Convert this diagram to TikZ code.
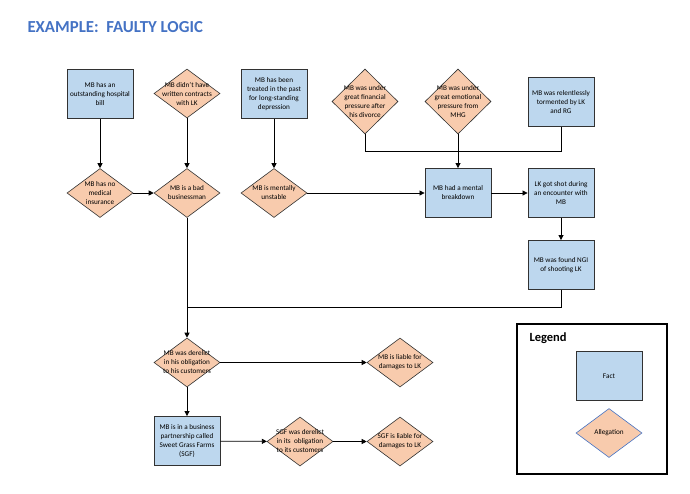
\documentclass[tikz,border=0pt]{standalone}
\usepackage{fontspec}
\setmainfont{Carlito}
\usetikzlibrary{arrows.meta,shapes.geometric}
\definecolor{factfill}{RGB}{189,215,238}
\definecolor{allgfill}{RGB}{248,203,173}
\definecolor{titleblue}{RGB}{68,114,196}
\definecolor{edgegray}{RGB}{50,50,50}
\tikzset{
  fact/.style={draw=edgegray, line width=0.9pt, fill=factfill, rectangle, minimum width=66pt, minimum height=49pt, inner sep=1pt, align=center, font=\fontsize{7.2}{9}\selectfont},
  allg/.style={draw=edgegray, line width=0.6pt, fill=allgfill, diamond, minimum width=66pt, minimum height=49pt, inner sep=0pt},
  tallallg/.style={allg, minimum height=65pt},
  lbl/.style={align=center, inner sep=0pt, font=\fontsize{7.2}{9}\selectfont},
  arr/.style={line width=0.8pt, -{Triangle[length=5pt,width=5pt]}},
  ln/.style={line width=0.8pt},
}
\begin{document}
\begin{tikzpicture}[x=1pt,y=-1pt]
\useasboundingbox (0,0) rectangle (690,493);
\node[anchor=west, text=titleblue, font=\fontsize{16.8}{19}\selectfont\bfseries] (title) at (24,27) {EXAMPLE:\ \ FAULTY LOGIC};

% row 1
\node[fact] (hosp) at (100,94) {MB has an\\outstanding hospital\\bill};
\node[allg, label={[lbl]center:{MB didn't have\\written contracts\\with LK}}] (contr) at (187,93.5) {};
\node[fact] (dep) at (274,94) {MB has been\\treated in the past\\for long-standing\\depression};
\node[tallallg, label={[lbl]center:{MB was under\\great financial\\pressure after\\his divorce}}] (fin) at (365,101.5) {};
\node[tallallg, label={[lbl]center:{MB was under\\great emotional\\pressure from\\MHG}}] (emo) at (458,101.5) {};
\node[fact] (tor) at (561,102) {MB was relentlessly\\tormented by LK\\and RG};

% row 2
\node[allg, label={[lbl]center:{MB has no\\medical\\insurance}}] (ins) at (100,193) {};
\node[allg, label={[lbl]center:{MB is a bad\\businessman}}] (bad) at (187,193) {};
\node[allg, label={[lbl]center:{MB is mentally\\unstable}}] (unst) at (274,193) {};
\node[fact] (brk) at (458,193) {MB had a mental\\breakdown};
\node[fact] (shot) at (561,193) {LK got shot during\\an encounter with\\MB};
\node[fact] (ngi) at (561,265) {MB was found NGI\\of shooting LK};

% lower part
\node[allg, label={[lbl]center:{MB was derelict\\in his obligation\\to his customers}}] (der) at (187,362.5) {};
\node[allg, label={[lbl]center:{MB is liable for\\damages to LK}}] (liab) at (400,362.5) {};
\node[fact] (part) at (187,441) {MB is in a business\\partnership called\\Sweet Grass Farms\\(SGF)};
\node[allg, label={[lbl]center:{SGF was derelict\\in its\ \ obligation\\to its customers}}] (sgfd) at (300,441.5) {};
\node[allg, label={[lbl]center:{SGF is liable for\\damages to LK}}] (sgfl) at (400,441.5) {};

% legend
\node[draw=black, line width=2.6pt, minimum width=150pt, minimum height=150pt, inner sep=0pt] (legbox) at (592,399) {};
\node[anchor=west, font=\fontsize{12.5}{14}\selectfont\bfseries] (legtitle) at (526,338) {Legend};
\node[fact] (legfact) at (609,376) {Fact};
\node[allg, draw=titleblue, label={[lbl]center:{Allegation}}] (legallg) at (609,433) {};

% connectors
\draw[arr] (hosp) -- (ins);
\draw[arr] (contr) -- (bad);
\draw[arr] (dep) -- (unst);
\draw[arr] (ins) -- (bad);
\draw[arr] (unst) -- (brk);
\draw[ln] (fin.south) -- ++(0,17) -| (tor.south);
\draw[arr] (emo) -- (brk);
\draw[arr] (brk) -- (shot);
\draw[arr] (shot) -- (ngi);
\coordinate (join) at (187,307);
\draw[ln] (ngi.south) |- (join);
\draw[arr] (bad) -- (der);
\draw[arr] (der) -- (liab);
\draw[arr] (der) -- (part);
\draw[arr] (part) -- (sgfd);
\draw[arr] (sgfd) -- (sgfl);
\end{tikzpicture}
\end{document}
